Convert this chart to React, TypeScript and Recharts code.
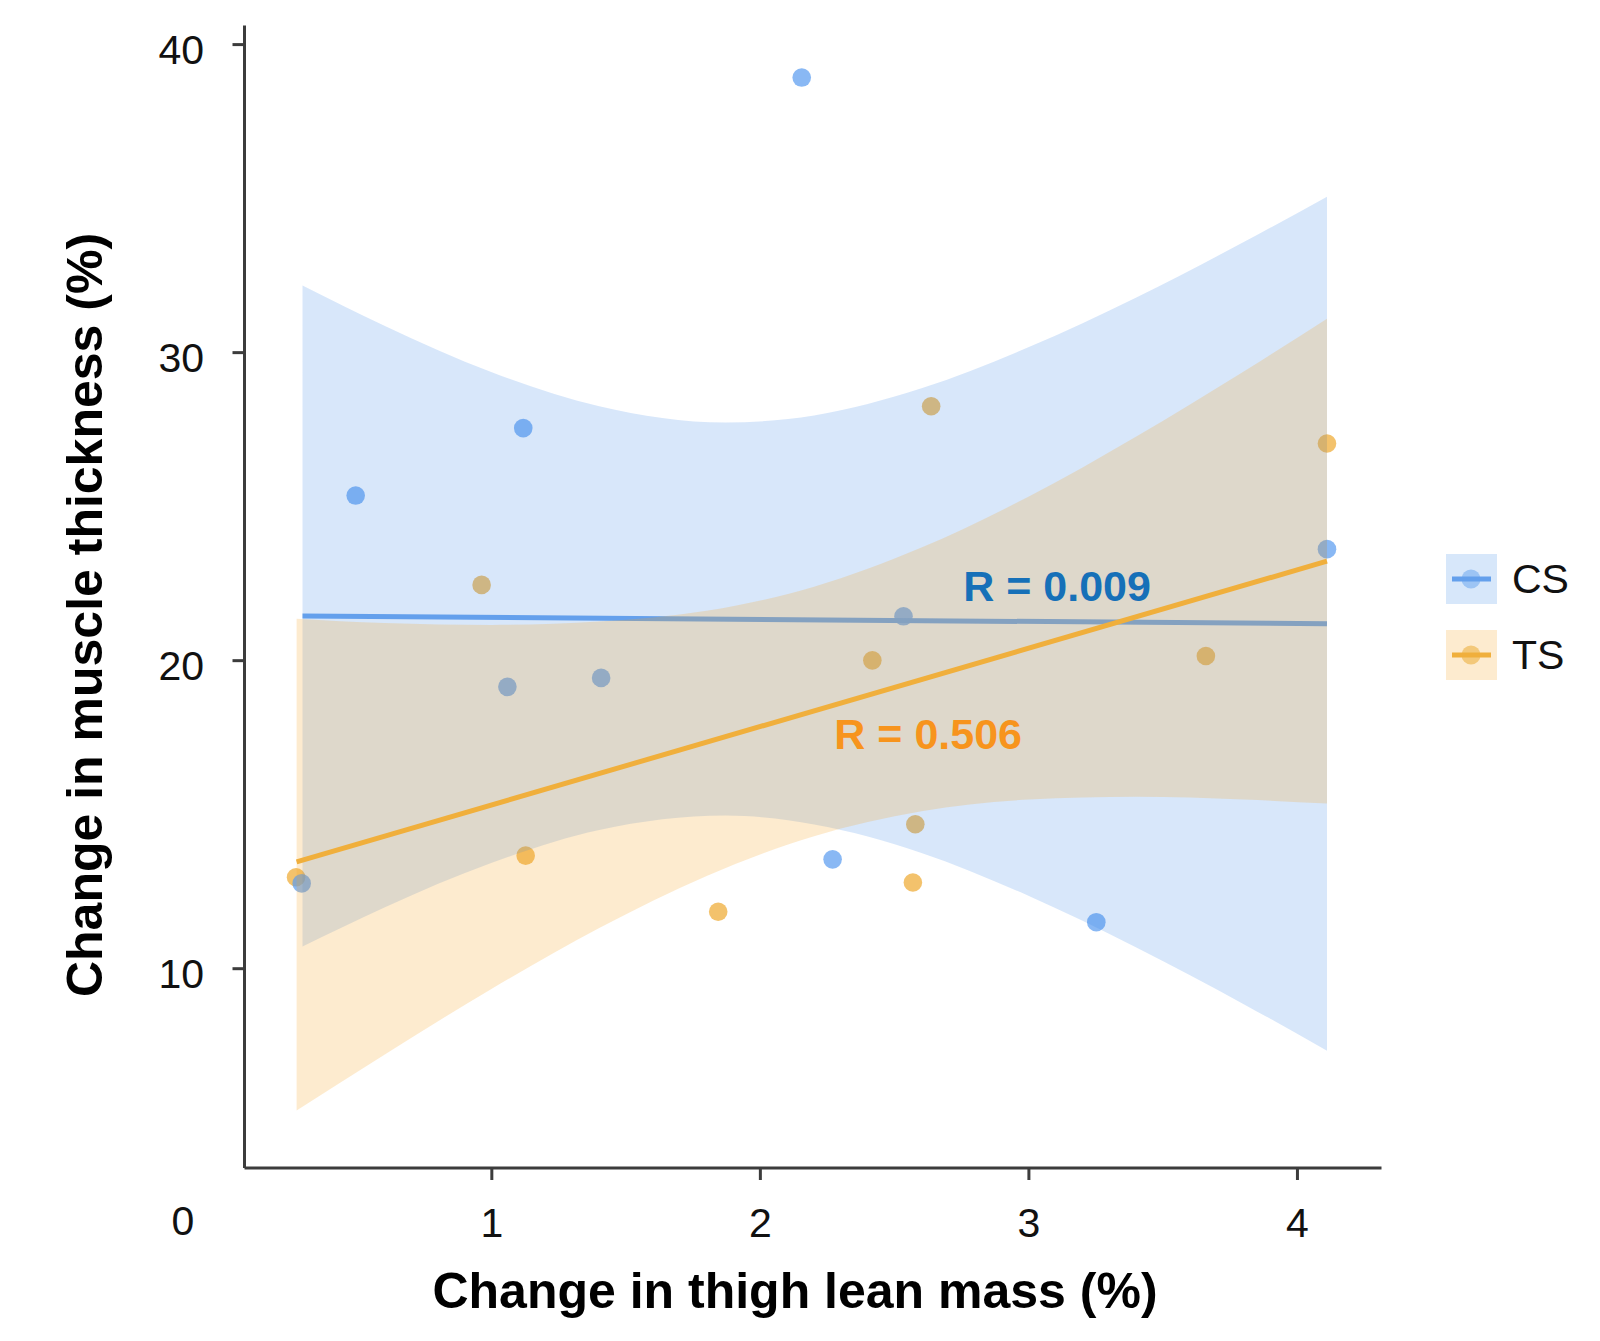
import React from 'react';
import { ComposedChart, XAxis, YAxis, Scatter, Area, Line, Legend, ReferenceDot } from 'recharts';

const FONT = '"Liberation Sans", Arial, Helvetica, sans-serif';

// ---- data ----
const xTicks = [1, 2, 3, 4];
const yTicks = [10, 20, 30, 40];

const csX = [0.292, 0.493, 1.117, 1.058, 1.407, 2.154, 2.269, 2.533, 3.251, 4.11];
const csY = [12.77, 25.36, 27.55, 19.15, 19.44, 38.93, 13.55, 21.44, 11.51, 23.62];
const tsX = [0.271, 0.962, 1.126, 1.843, 2.417, 2.577, 2.568, 2.636, 3.659, 4.11];
const tsY = [12.97, 22.46, 13.67, 11.85, 20.01, 14.69, 12.8, 28.26, 20.15, 27.05];

const csFitX = [0.295, 4.11];
const csFitY = [21.45, 21.2];
const tsFitX = [0.273, 4.11];
const tsFitY = [13.47, 23.23];

const csBandX = [0.295, 0.6, 1.0, 1.4, 1.87, 2.2, 2.6, 3.0, 3.4, 3.8, 4.11];
const csBandLow = [10.72, 11.99, 13.44, 14.5, 14.97, 14.68, 13.76, 12.36, 10.69, 8.85, 7.34];
const csBandHigh = [32.18, 30.87, 29.36, 28.26, 27.73, 27.96, 28.84, 30.18, 31.79, 33.59, 35.06];

const tsBandX = [0.273, 0.6, 1.0, 1.4, 1.8, 2.2, 2.6, 3.0, 3.4, 3.8, 4.11];
const tsBandLow = [5.4, 7.21, 9.35, 11.32, 13.01, 14.3, 15.11, 15.49, 15.58, 15.49, 15.36];
const tsBandHigh = [21.36, 21.22, 21.16, 21.27, 21.62, 22.4, 23.67, 25.33, 27.28, 29.39, 31.1];

const groupNames = ['CS', 'TS'];
const annotationText = ['R = 0.009', 'R = 0.506'];
const annotationX = [3.105, 2.625];
const annotationY = [21.95, 17.12];

// ---- styles ----
const csPointColor = '#5B9CF0';
const tsPointColor = '#EEAA33';
const csLineColor = '#64A0EC';
const tsLineColor = '#F0AF3C';
const csBandColor = '#3A86E8';
const tsBandColor = '#F5A623';
const annotationColors = ['#1670B8', '#F7941D'];
const axisColor = '#3c3c3c';

const zip = (xs: number[], ys: number[]) => xs.map((x, i) => ({ x, y: ys[i] }));
const band = (xs: number[], lo: number[], hi: number[]) => xs.map((x, i) => ({ x, range: [lo[i], hi[i]] }));

const csPoints = zip(csX, csY);
const tsPoints = zip(tsX, tsY);
const csFit = zip(csFitX, csFitY);
const tsFit = zip(tsFitX, tsFitY);
const csBand = band(csBandX, csBandLow, csBandHigh);
const tsBand = band(tsBandX, tsBandLow, tsBandHigh);

const W = 1584;
const H = 1325;

const pointShape = (color: string) => (props: any) => (
  <circle cx={props.cx} cy={props.cy} r={9.3} fill={color} fillOpacity={0.72} />
);

const XTick = (props: any) => (
  <text x={props.x} y={props.y + 57} textAnchor="middle" fontFamily={FONT} fontSize={41} fill="#111">
    {props.payload.value}
  </text>
);

const YTick = (props: any) => (
  <text x={props.x} y={props.y + 19} textAnchor="end" fontFamily={FONT} fontSize={41} fill="#111">
    {props.payload.value}
  </text>
);

const XTitle = () => (
  <g>
    <text x={175} y={1227} textAnchor="middle" fontFamily={FONT} fontSize={41} fill="#111">0</text>
    <text x={787} y={1300} textAnchor="middle" fontFamily={FONT} fontSize={50} fontWeight="bold" fill="#000">
      Change in thigh lean mass (%)
    </text>
  </g>
);

const YTitle = () => (
  <text
    x={93.5}
    y={607}
    transform="rotate(-90, 93.5, 607)"
    textAnchor="middle"
    fontFamily={FONT}
    fontSize={50}
    fontWeight="bold"
    fill="#000"
  >
    Change in muscle thickness (%)
  </text>
);

const legendBoxFill = ['#D7E7FA', '#FDEBCF'];
const legendDotFill = ['#9CC4F4', '#F3C87A'];
const legendLine = [csLineColor, tsLineColor];

const renderLegend = () => (
  <svg width={150} height={130} style={{ display: 'block', overflow: 'visible' }}>
    {groupNames.map((name, i) => {
      const top = i * 76;
      return (
        <g key={name}>
          <rect x={0} y={top} width={51} height={50} fill={legendBoxFill[i]} />
          <circle cx={25} cy={top + 25} r={9.5} fill={legendDotFill[i]} />
          <line x1={6} x2={45} y1={top + 25} y2={top + 25} stroke={legendLine[i]} strokeWidth={5} />
          <text x={66} y={top + 39} fontFamily={FONT} fontSize={41} fill="#111">{name}</text>
        </g>
      );
    })}
  </svg>
);

const annotationLabel = (i: number) => (props: any) => {
  const vb = props.viewBox || {};
  const cx = (vb.x ?? 0) + (vb.width ?? 0) / 2;
  const cy = (vb.y ?? 0) + (vb.height ?? 0) / 2;
  return (
    <text x={cx} y={cy} textAnchor="middle" fontFamily={FONT} fontSize={43} fontWeight="bold" fill={annotationColors[i]}>
      {annotationText[i]}
    </text>
  );
};

export default function App() {
  return (
    <div style={{ width: W, height: H, background: '#fff' }}>
      <ComposedChart width={W} height={H} margin={{ top: 17.5, right: 210.5, bottom: 0, left: 0 }}>
        <XAxis
          type="number"
          dataKey="x"
          domain={[0.079, 4.313]}
          allowDataOverflow
          ticks={xTicks}
          tickSize={12}
          tickMargin={0}
          height={165}
          axisLine={{ stroke: axisColor, strokeWidth: 3 }}
          tickLine={{ stroke: axisColor, strokeWidth: 3 }}
          tick={XTick}
          label={{ content: XTitle }}
        />
        <YAxis
          type="number"
          domain={[3.53, 40.62]}
          allowDataOverflow
          ticks={yTicks}
          tickSize={12}
          tickMargin={28.5}
          width={236.5}
          axisLine={{ stroke: axisColor, strokeWidth: 3 }}
          tickLine={{ stroke: axisColor, strokeWidth: 3 }}
          tick={YTick}
          label={{ content: YTitle }}
        />
        <Scatter name="TS points" data={tsPoints} dataKey="y" shape={pointShape(tsPointColor)} isAnimationActive={false} zIndex={10} legendType="none" />
        <Scatter name="CS points" data={csPoints} dataKey="y" shape={pointShape(csPointColor)} isAnimationActive={false} zIndex={11} legendType="none" />
        <Area
          data={csBand}
          dataKey="range"
          type="monotone"
          stroke="none"
          fill={csBandColor}
          fillOpacity={0.2}
          dot={false}
          activeDot={false}
          isAnimationActive={false}
          zIndex={20}
          legendType="none"
        />
        <Line
          data={csFit}
          dataKey="y"
          type="linear"
          stroke={csLineColor}
          strokeWidth={5}
          dot={false}
          activeDot={false}
          isAnimationActive={false}
          zIndex={21}
          name="CS"
        />
        <Area
          data={tsBand}
          dataKey="range"
          type="monotone"
          stroke="none"
          fill={tsBandColor}
          fillOpacity={0.22}
          dot={false}
          activeDot={false}
          isAnimationActive={false}
          zIndex={22}
          legendType="none"
        />
        <Line
          data={tsFit}
          dataKey="y"
          type="linear"
          stroke={tsLineColor}
          strokeWidth={5}
          dot={false}
          activeDot={false}
          isAnimationActive={false}
          zIndex={23}
          name="TS"
        />
        {annotationText.map((t, i) => (
          <ReferenceDot
            key={t}
            x={annotationX[i]}
            y={annotationY[i]}
            r={1}
            fill="none"
            stroke="none"
            label={{ content: annotationLabel(i) }}
          />
        ))}
        <Legend
          layout="vertical"
          align="center"
          verticalAlign="middle"
          wrapperStyle={{ left: 1438, top: 546, width: 150, height: 130 }}
          content={renderLegend}
        />
      </ComposedChart>
    </div>
  );
}
